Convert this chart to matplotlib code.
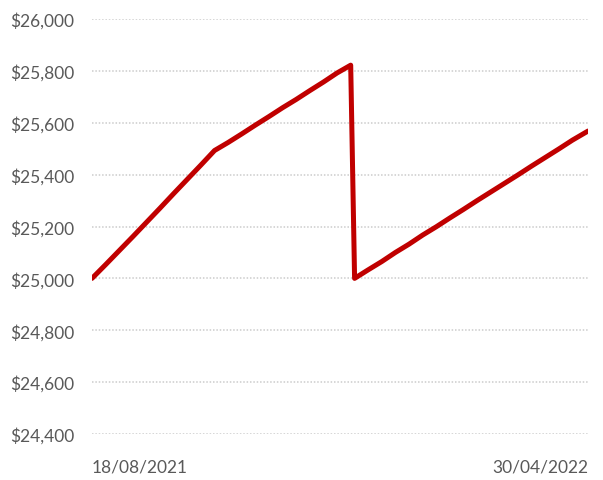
import matplotlib
matplotlib.use("Agg")
import matplotlib.pyplot as plt
import matplotlib.dates as mdates
import matplotlib.ticker as mticker
import pandas as pd

plt.rcParams["font.family"] = ["Lato", "DejaVu Sans"]

# Portfolio balance, read at roughly weekly points
dates = [
    "2021-08-18", "2021-08-25", "2021-09-01", "2021-09-08", "2021-09-15",
    "2021-09-22", "2021-09-29", "2021-10-06", "2021-10-13", "2021-10-20",
    "2021-10-27", "2021-11-03", "2021-11-10", "2021-11-17", "2021-11-24",
    "2021-12-01", "2021-12-08", "2021-12-15", "2021-12-22", "2021-12-29",
    "2021-12-31", "2022-01-07", "2022-01-14", "2022-01-21", "2022-01-28",
    "2022-02-04", "2022-02-11", "2022-02-18", "2022-02-25", "2022-03-04",
    "2022-03-11", "2022-03-18", "2022-03-25", "2022-04-01", "2022-04-08",
    "2022-04-15", "2022-04-22", "2022-04-30",
]
balance = [
    25000, 25053, 25107, 25161, 25216,
    25271, 25327, 25382, 25437, 25493,
    25524, 25557, 25591, 25624, 25658,
    25690, 25724, 25757, 25792, 25822,
    25000, 25033, 25065, 25100, 25132,
    25167, 25199, 25233, 25266, 25300,
    25333, 25366, 25399, 25433, 25466,
    25499, 25533, 25568,
]
y_ticks = [24400, 24600, 24800, 25000, 25200, 25400, 25600, 25800, 26000]

x = pd.to_datetime(dates)

fig = plt.figure(figsize=(6.03, 4.81), dpi=100)
ax = fig.add_axes([92 / 603, 46 / 481, 496 / 603, 415 / 481])

ax.plot(x, balance, color="#C00000", linewidth=3.6, solid_joinstyle="round",
        solid_capstyle="round", zorder=3)

ax.set_xlim(x[0], x[-1])
ax.set_ylim(y_ticks[0], y_ticks[-1])
ax.set_yticks(y_ticks)
ax.yaxis.set_major_formatter(mticker.FuncFormatter(lambda v, _: f"${v:,.0f}"))
ax.grid(axis="y", color="#CCCCCC", linestyle=(0, (1, 1.2)), linewidth=1.1)
ax.set_axisbelow(True)

# only the first and last dates are labelled, pinned to the plot edges
ax.set_xticks([x[0], x[-1]])
ax.xaxis.set_major_formatter(mdates.DateFormatter("%d/%m/%Y"))
labels = ax.get_xticklabels()
labels[0].set_horizontalalignment("left")
labels[-1].set_horizontalalignment("right")

ax.tick_params(axis="both", length=0, labelsize=12.5, labelcolor="#595959")
ax.tick_params(axis="y", pad=13)
ax.tick_params(axis="x", pad=18)
for s in ax.spines.values():
    s.set_visible(False)

fig.savefig("out.png", dpi=100)
